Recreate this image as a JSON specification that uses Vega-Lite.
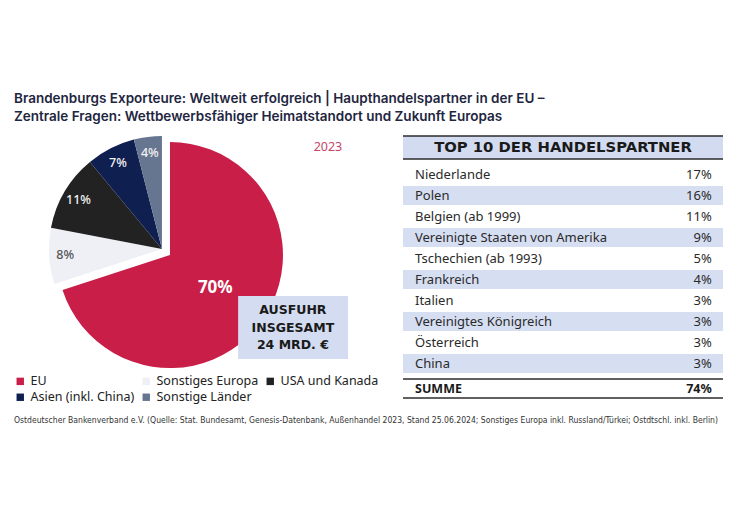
{
  "$schema": "https://vega.github.io/schema/vega-lite/v6.json",
  "background": "white",
  "padding": {"left": 14, "top": 91, "right": 5, "bottom": 5},
  "config": {"view": {"stroke": null}, "font": "Noto Sans"},
  "title": {
    "text": ["Brandenburgs Exporteure: Weltweit erfolgreich | Haupthandelspartner in der EU –", "Zentrale Fragen: Wettbewerbsfähiger Heimatstandort und Zukunft Europas"],
    "anchor": "start", "font": "Inter", "fontSize": 13.5, "fontWeight": 600, "color": "#1e2640", "lineHeight": 18, "offset": 12
  },
  "spacing": 16,
  "vconcat": [
    {
      "bounds": "flush",
      "spacing": 55,
      "hconcat": [
        {
          "width": 334, "height": 226,
          "data": {"values": [
            {"region": "EU", "share": 0.70, "order": 1},
            {"region": "Sonstiges Europa", "share": 0.08, "order": 2},
            {"region": "USA und Kanada", "share": 0.11, "order": 3},
            {"region": "Asien (inkl. China)", "share": 0.07, "order": 4},
            {"region": "Sonstige Länder", "share": 0.04, "order": 5}
          ]},
          "layer": [
            {
              "mark": {"type": "arc", "outerRadius": 113},
              "encoding": {
                "theta": {"field": "share", "type": "quantitative", "stack": true},
                "order": {"field": "order", "type": "quantitative"},
                "x": {"datum": 0.443, "type": "quantitative", "scale": {"domain": [0, 1]}, "axis": null},
                "y": {"datum": 0.5, "type": "quantitative", "scale": {"domain": [0, 1], "reverse": true}, "axis": null},
                "color": {
                  "field": "region", "type": "nominal",
                  "scale": {"domain": ["EU", "Sonstiges Europa", "USA und Kanada", "Asien (inkl. China)", "Sonstige Länder"],
                            "range": ["#c81e48", "#eef0f6", "#222222", "#0f1f4f", "#677690"]},
                  "legend": {"orient": "none", "legendX": 0, "legendY": 239, "columns": 3, "direction": "horizontal", "title": null,
                             "symbolType": "square", "symbolSize": 55, "symbolStrokeWidth": 0,
                             "labelFontSize": 12.5, "labelFont": "Noto Sans", "labelColor": "#222222",
                             "columnPadding": 5, "rowPadding": 3, "labelOffset": 4, "padding": 0}
                },
                "opacity": {"condition": {"test": "datum.region === 'EU'", "value": 0}, "value": 1}
              }
            },
            {
              "mark": {"type": "arc", "outerRadius": 113},
              "encoding": {
                "theta": {"field": "share", "type": "quantitative", "stack": true},
                "order": {"field": "order", "type": "quantitative"},
                "x": {"datum": 0.467, "type": "quantitative"},
                "y": {"datum": 0.527, "type": "quantitative"},
                "color": {"field": "region", "type": "nominal"},
                "opacity": {"condition": {"test": "datum.region === 'EU'", "value": 1}, "value": 0}
              }
            },
            {
              "mark": {"type": "text", "radius": 97, "fontSize": 12.5, "fontWeight": 500},
              "encoding": {
                "theta": {"field": "share", "type": "quantitative", "stack": true},
                "order": {"field": "order", "type": "quantitative"},
                "x": {"datum": 0.443, "type": "quantitative"},
                "y": {"datum": 0.5, "type": "quantitative"},
                "text": {"condition": {"test": "datum.region === 'EU'", "value": ""}, "field": "share", "type": "quantitative", "format": ".0%"},
                "color": {"condition": {"test": "datum.region === 'Sonstiges Europa'", "value": "#555555"}, "value": "#f2f2f2"}
              }
            },
            {
              "mark": {"type": "text", "radius": 56, "fontSize": 17, "fontWeight": "bold", "color": "white"},
              "encoding": {
                "theta": {"field": "share", "type": "quantitative", "stack": true},
                "order": {"field": "order", "type": "quantitative"},
                "x": {"datum": 0.467, "type": "quantitative"},
                "y": {"datum": 0.527, "type": "quantitative"},
                "text": {"condition": {"test": "datum.region !== 'EU'", "value": ""}, "field": "share", "type": "quantitative", "format": ".0%"}
              }
            },
            {
              "data": {"values": [{"label": "Ausfuhr insgesamt"}]},
              "mark": {"type": "rect", "color": "#d3dcf0"},
              "encoding": {
                "x": {"datum": 0.671, "type": "quantitative"},
                "x2": {"datum": 1.0},
                "y": {"datum": 0.708, "type": "quantitative"},
                "y2": {"datum": 0.987}
              }
            },
            {
              "data": {"values": [{"label": "Ausfuhr insgesamt"}]},
              "mark": {"type": "text", "text": ["AUSFUHR", "INSGESAMT", "  24 MRD. €"], "lineHeight": 17.5, "font": "DejaVu Sans", "fontSize": 12.5, "fontWeight": "bold", "color": "#1a1a1a", "align": "center", "baseline": "middle"},
              "encoding": {
                "x": {"datum": 0.835, "type": "quantitative"},
                "y": {"datum": 0.772, "type": "quantitative"}
              }
            },
            {
              "data": {"values": [{"year": "2023"}]},
              "mark": {"type": "text", "fontSize": 12.5, "color": "#c4466a", "align": "center", "baseline": "middle"},
              "encoding": {
                "text": {"field": "year"},
                "x": {"datum": 0.94, "type": "quantitative"},
                "y": {"datum": 0.049, "type": "quantitative"}
              }
            }
          ]
        },
        {
          "bounds": "flush",
          "spacing": 5,
          "vconcat": [
            {
              "width": 320, "height": 23,
              "data": {"values": [{"title": "TOP 10 DER HANDELSPARTNER"}]},
              "layer": [
                {
                  "mark": {"type": "rect", "color": "#d3dbf0"},
                  "encoding": {
                    "x": {"datum": 0, "type": "quantitative", "scale": {"domain": [0, 1]}, "axis": null},
                    "x2": {"datum": 1}
                  }
                },
                {
                  "mark": {"type": "rule", "color": "#2b2b2b", "strokeWidth": 1.5},
                  "encoding": {"y": {"datum": 0, "type": "quantitative", "scale": {"domain": [0, 1], "reverse": true}, "axis": null}}
                },
                {
                  "mark": {"type": "rule", "color": "#2b2b2b", "strokeWidth": 1.5},
                  "encoding": {"y": {"datum": 1, "type": "quantitative"}}
                },
                {
                  "mark": {"type": "text", "font": "DejaVu Sans", "fontWeight": "bold", "fontSize": 14.8, "color": "#1a1a1a", "align": "center", "baseline": "middle"},
                  "encoding": {
                    "text": {"field": "title"},
                    "x": {"datum": 0.5, "type": "quantitative"},
                    "y": {"datum": 0.5, "type": "quantitative"}
                  }
                }
              ]
            },
            {
              "width": 320, "height": 210,
              "data": {"values": [
                {"rank": 1, "partner": "Niederlande", "share": 0.17},
                {"rank": 2, "partner": "Polen", "share": 0.16},
                {"rank": 3, "partner": "Belgien (ab 1999)", "share": 0.11},
                {"rank": 4, "partner": "Vereinigte Staaten von Amerika", "share": 0.09},
                {"rank": 5, "partner": "Tschechien (ab 1993)", "share": 0.05},
                {"rank": 6, "partner": "Frankreich", "share": 0.04},
                {"rank": 7, "partner": "Italien", "share": 0.03},
                {"rank": 8, "partner": "Vereinigtes Königreich", "share": 0.03},
                {"rank": 9, "partner": "Österreich", "share": 0.03},
                {"rank": 10, "partner": "China", "share": 0.03}
              ]},
              "encoding": {
                "y": {"field": "partner", "type": "nominal", "sort": null, "scale": {"paddingInner": 0.1, "paddingOuter": 0.05}, "axis": null}
              },
              "layer": [
                {
                  "mark": {"type": "rect", "color": "#d6def2"},
                  "encoding": {
                    "x": {"datum": 0, "type": "quantitative", "scale": {"domain": [0, 1]}, "axis": null},
                    "x2": {"datum": 1},
                    "fillOpacity": {"condition": {"test": "datum.rank % 2 === 0", "value": 1}, "value": 0}
                  }
                },
                {
                  "mark": {"type": "text", "align": "left", "baseline": "middle", "fontSize": 13, "color": "#2a2a2a"},
                  "encoding": {
                    "text": {"field": "partner"},
                    "x": {"datum": 0.0375, "type": "quantitative"}
                  }
                },
                {
                  "mark": {"type": "text", "align": "right", "baseline": "middle", "fontSize": 13, "color": "#2a2a2a"},
                  "encoding": {
                    "text": {"field": "share", "type": "quantitative", "format": ".0%"},
                    "x": {"datum": 0.965, "type": "quantitative"}
                  }
                }
              ]
            },
            {
              "width": 320, "height": 19,
              "data": {"values": [{"partner": "SUMME", "share": 0.74}]},
              "layer": [
                {
                  "mark": {"type": "rule", "color": "#2b2b2b", "strokeWidth": 1.5},
                  "encoding": {"y": {"datum": 0, "type": "quantitative", "scale": {"domain": [0, 1], "reverse": true}, "axis": null}}
                },
                {
                  "mark": {"type": "rule", "color": "#2b2b2b", "strokeWidth": 1.5},
                  "encoding": {"y": {"datum": 1, "type": "quantitative"}}
                },
                {
                  "mark": {"type": "text", "align": "left", "baseline": "middle", "fontSize": 12.5, "fontWeight": "bold", "color": "#1a1a1a"},
                  "encoding": {
                    "text": {"field": "partner"},
                    "x": {"datum": 0.0375, "type": "quantitative", "scale": {"domain": [0, 1]}, "axis": null},
                    "y": {"datum": 0.5, "type": "quantitative"}
                  }
                },
                {
                  "mark": {"type": "text", "align": "right", "baseline": "middle", "fontSize": 12.5, "fontWeight": "bold", "color": "#1a1a1a"},
                  "encoding": {
                    "text": {"field": "share", "type": "quantitative", "format": ".0%"},
                    "x": {"datum": 0.965, "type": "quantitative"},
                    "y": {"datum": 0.5, "type": "quantitative"}
                  }
                }
              ]
            }
          ]
        }
      ]
    },
    {
      "width": 709, "height": 10,
      "data": {"values": [{"note": "Ostdeutscher Bankenverband e.V. (Quelle: Stat. Bundesamt, Genesis-Datenbank, Außenhandel 2023, Stand 25.06.2024; Sonstiges Europa inkl. Russland/Türkei; Ostdtschl. inkl. Berlin)"}]},
      "mark": {"type": "text", "align": "left", "baseline": "middle", "font": "DejaVu Sans Condensed, Roboto, sans-serif", "fontSize": 8.55, "color": "#333333"},
      "encoding": {
        "text": {"field": "note"},
        "x": {"datum": 0, "type": "quantitative", "scale": {"domain": [0, 1]}, "axis": null},
        "y": {"datum": 0.5, "type": "quantitative", "scale": {"domain": [0, 1]}, "axis": null}
      }
    }
  ]
}
